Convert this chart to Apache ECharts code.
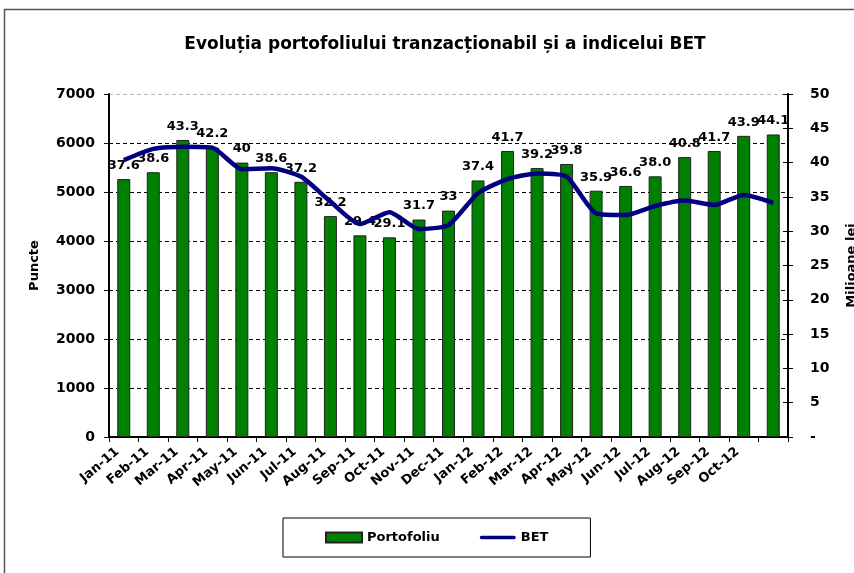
<!DOCTYPE html>
<html>
<head>
<meta charset="utf-8">
<script src="https://cdn.jsdelivr.net/npm/echarts@6/dist/echarts.min.js"></script>
<style>
  html, body { margin: 0; padding: 0; background: #fff; }
  #chart { width: 854px; height: 573px; }
</style>
</head>
<body>
<div id="chart"></div>
<script>
// date
var luni = ['Jan-11','Feb-11','Mar-11','Apr-11','May-11','Jun-11','Jul-11','Aug-11','Sep-11','Oct-11','Nov-11','Dec-11',
            'Jan-12','Feb-12','Mar-12','Apr-12','May-12','Jun-12','Jul-12','Aug-12','Sep-12','Oct-12','Nov-12'];
var portofoliu = [37.6, 38.6, 43.3, 42.2, 40, 38.6, 37.2, 32.2, 29.4, 29.1, 31.7, 33,
                  37.4, 41.7, 39.2, 39.8, 35.9, 36.6, 38.0, 40.8, 41.7, 43.9, 44.1];
var etichete = ['37.6','38.6','43.3','42.2','40','38.6','37.2','32.2','29.4','29.1','31.7','33',
                '37.4','41.7','39.2','39.8','35.9','36.6','38.0','40.8','41.7','43.9','44.1'];
var bet = [5650, 5880, 5925, 5905, 5465, 5485, 5315, 4805, 4345, 4585, 4245, 4325,
           4975, 5265, 5380, 5315, 4565, 4530, 4715, 4825, 4735, 4940, 4780];

var font = 'DejaVu Sans';
var chart = echarts.init(document.getElementById('chart'));

var option = {
  backgroundColor: '#fff',
  animation: false,
  title: {
    text: 'Evoluția portofoliului tranzacționabil și a indicelui BET',
    left: 440,
    textAlign: 'center',
    top: 31,
    textStyle: { fontFamily: font, fontSize: 17, fontWeight: 'bold', color: '#000' }
  },
  graphic: [{
    type: 'polyline',
    shape: { points: [[4.5, 600], [4.5, 9.5], [900, 9.5]] },
    style: { fill: null, stroke: '#555', lineWidth: 1.5 },
    silent: true
  }],
  legend: {
    left: 283,
    top: 518,
    padding: [13, 42],
    borderColor: '#000',
    borderWidth: 1,
    itemGap: 40,
    itemWidth: 36,
    itemHeight: 10,
    textStyle: { fontFamily: font, fontSize: 13, fontWeight: 'bold', color: '#000' },
    data: [
      { name: 'Portofoliu', icon: 'rect' },
      { name: 'BET', icon: 'path://M0,0 L0,0 M2,3 L38,3 A2,2 0 0 1 38,7 L2,7 A2,2 0 0 1 2,3 Z M40,10 L40,10' }
    ]
  },
  grid: { left: 109, right: 66, top: 94, bottom: 136, containLabel: false, outerBoundsMode: 'none' },
  xAxis: {
    type: 'category',
    data: luni,
    axisLine: { lineStyle: { color: '#000', width: 2 } },
    axisTick: { show: true, length: 5, lineStyle: { color: '#000', width: 1 } },
    axisLabel: {
      rotate: 40,
      interval: 0,
      margin: 8,
      padding: [0, 8, 0, 0],
      fontFamily: font, fontSize: 13, fontWeight: 'bold', color: '#000',
      formatter: function (v, i) { return i === luni.length - 1 ? '' : v; }
    }
  },
  yAxis: [{
    type: 'value',
    position: 'left',
    min: 0, max: 7000, interval: 1000,
    name: 'Puncte',
    nameLocation: 'middle',
    nameRotate: 90,
    nameGap: 68,
    nameTextStyle: { fontFamily: font, fontSize: 13, fontWeight: 'bold', color: '#000' },
    axisLine: { show: true, lineStyle: { color: '#000', width: 2 } },
    axisTick: { show: true, length: 5, lineStyle: { color: '#000' } },
    axisLabel: {
      margin: 14, fontFamily: font, fontSize: 14, fontWeight: 'bold', color: '#000',
      formatter: function (v) { return String(v); }
    },
    splitLine: {
      show: true,
      lineStyle: {
        type: [4, 3],
        width: 1,
        color: ['#000', '#000', '#000', '#000', '#000', '#000', '#000', '#bbb']
      }
    }
  }, {
    type: 'value',
    position: 'right',
    min: 0, max: 50, interval: 5,
    name: 'Milioane lei',
    nameLocation: 'middle',
    nameRotate: 90,
    nameGap: 57,
    nameTextStyle: { fontFamily: font, fontSize: 13, fontWeight: 'bold', color: '#000' },
    axisLine: { show: true, lineStyle: { color: '#000', width: 2 } },
    axisTick: { show: true, length: 5, lineStyle: { color: '#000' } },
    axisLabel: {
      margin: 22, fontFamily: font, fontSize: 14, fontWeight: 'bold', color: '#000',
      formatter: function (v) { return v === 0 ? '-' : String(v); }
    },
    splitLine: { show: false }
  }, {
    // tick-uri spre interior pe axa din dreapta
    type: 'value',
    position: 'right',
    min: 0, max: 50, interval: 5,
    axisLine: { show: false },
    axisTick: { show: true, inside: true, length: 5, lineStyle: { color: '#000' } },
    axisLabel: { show: false },
    splitLine: { show: false }
  }],
  series: [{
    name: 'Portofoliu',
    type: 'bar',
    yAxisIndex: 1,
    data: portofoliu,
    barWidth: 13,
    itemStyle: { color: '#008000', borderColor: '#222', borderWidth: 1 },
    label: {
      show: true,
      position: 'top',
      distance: 7,
      fontFamily: font, fontSize: 13, fontWeight: 'bold', color: '#000',
      formatter: function (p) { return etichete[p.dataIndex]; }
    },
    z: 2
  }, {
    name: 'BET',
    type: 'line',
    yAxisIndex: 0,
    data: bet,
    symbol: 'none',
    smooth: 0.2,
    lineStyle: { color: '#000080', width: 4.5 },
    itemStyle: { color: '#000080' },
    z: 3
  }]
};

chart.setOption(option);
</script>
</body>
</html>
